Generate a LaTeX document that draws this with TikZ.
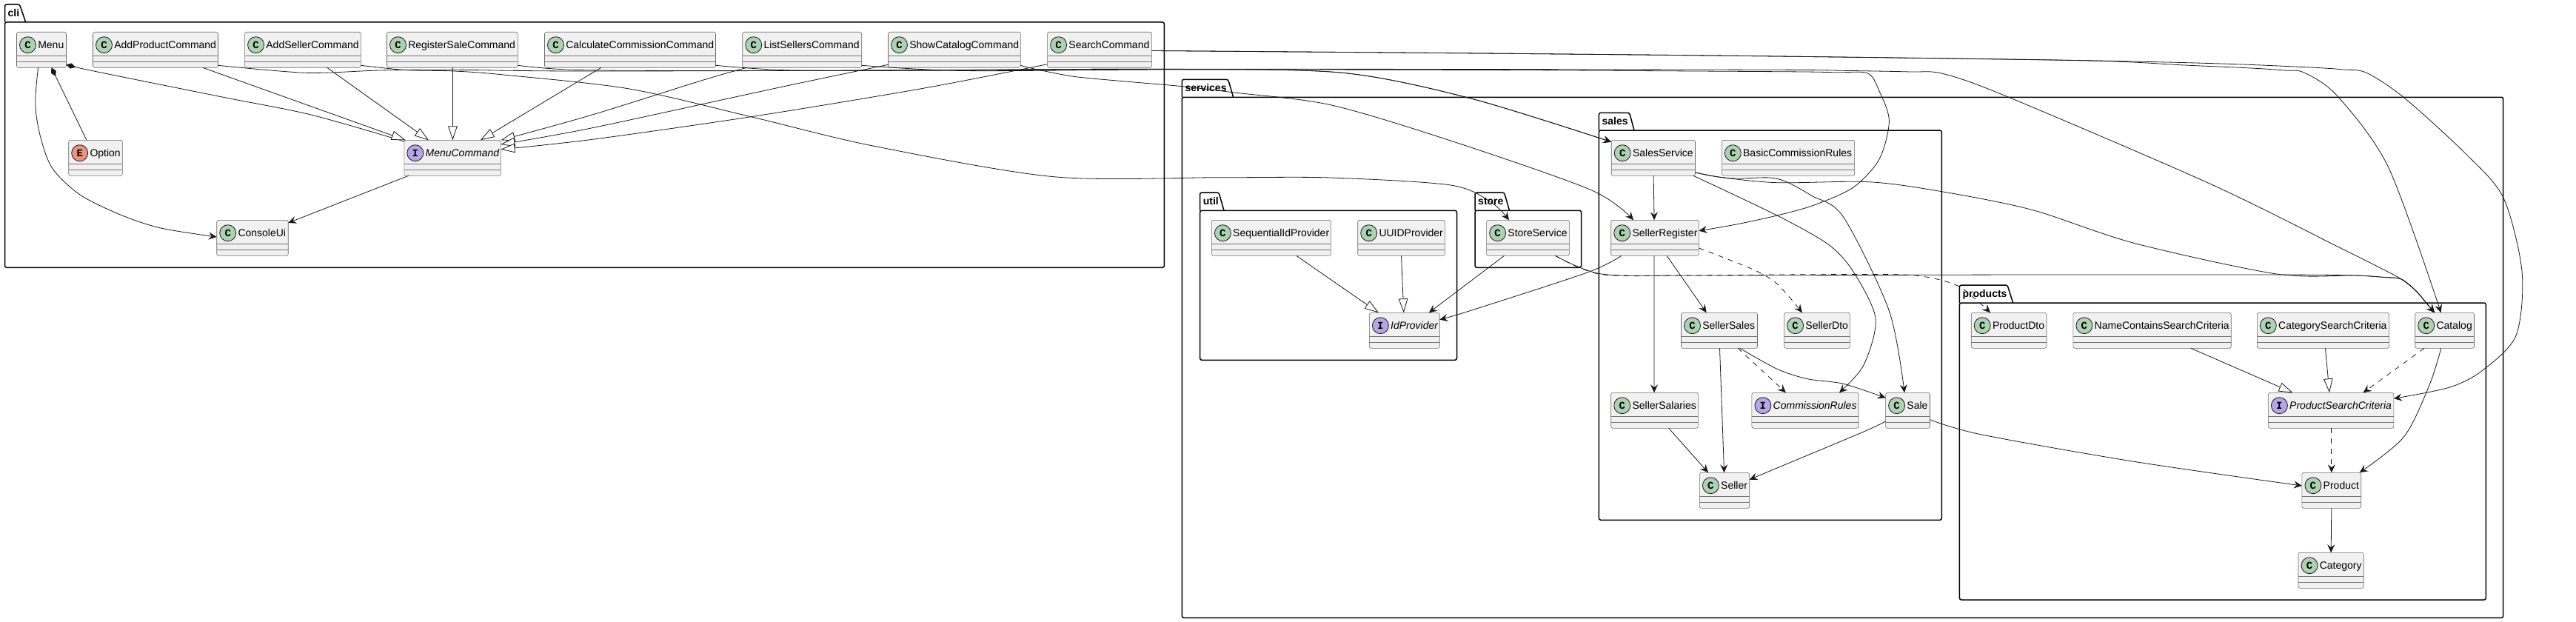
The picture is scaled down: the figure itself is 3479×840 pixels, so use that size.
\documentclass[tikz,border=0pt]{standalone}
\usepackage{fontspec}
\setmainfont{Liberation Sans}
\setmonofont{Liberation Mono}
\usepackage{tikz}
\usetikzlibrary{arrows.meta,calc}
\usepackage{xcolor}
\definecolor{boxgray}{HTML}{F1F1F1}
\definecolor{edgeink}{HTML}{181818}
\definecolor{spotclass}{HTML}{ADD1B2}
\definecolor{spotiface}{HTML}{B4A7E5}
\definecolor{spotenum}{HTML}{EB937F}
\tikzset{
  classbox/.style={draw=edgeink!65,line width=.6,fill=boxgray,rounded corners=2.5,minimum height=48,inner sep=0,outer sep=0},
  seprule/.style={draw=edgeink!60,line width=.7},
  spotmark/.style={circle,draw=edgeink,line width=.8,minimum size=22,inner sep=0,font=\fontsize{14}{14}\selectfont\ttfamily\bfseries},
  classname/.style={anchor=base west,inner sep=0,font=\fontsize{14}{16}\selectfont},
  ifacename/.style={anchor=base west,inner sep=0,font=\fontsize{14}{16}\selectfont\itshape},
  pkgbox/.style={draw=black,line width=1.5,rounded corners=2.5,inner sep=0,outer sep=0},
  pkgname/.style={anchor=base west,inner sep=0,font=\fontsize{14}{16}\selectfont\bfseries},
  assoc/.style={draw=edgeink,line width=.8,-{Stealth[length=11,width=10,inset=4]}},
  dep/.style={assoc,dash pattern=on 7pt off 7pt},
  ext/.style={draw=edgeink,line width=.8,-{Triangle[open,length=19,width=12.5,fill=white]}},
  comp/.style={draw=edgeink,line width=.8}
}
\newcommand{\umlbox}[7]{
  \node[classbox,minimum width=#3] (#1) at (#2+#3/2,#4+24) {};
  \draw[seprule] ([yshift=-32]#1.north west) -- ([yshift=-32]#1.north east);
  \draw[seprule] ([yshift=-40]#1.north west) -- ([yshift=-40]#1.north east);
  \node[spotmark,fill=#6] (#1-spot) at ([shift={(15,17.4)}]#1.north west) {#5};
  \node[#7] (#1-name) at ([shift={(28.6,22.3)}]#1.north west) {#1};
}
\begin{document}
\begin{tikzpicture}[x=1pt,y=-1pt]
  \useasboundingbox (0,0) rectangle (3479,840);

  % Packages
  \foreach \nm/\xa/\xb/\ya/\yb/\yc/\ta/\tb in {
    cli/6.5/1572.4/6/30/361.3/26.5/34.7,
    services/1596.3/3380.7/107.3/131.3/834.3/1658.6/1665.6,
    util/1620.6/1967.5/260/284.3/486.3/1646/1653,
    store/1992/2135.6/260/284.3/361.3/2031.5/2038.5,
    sales/2159.4/2622.3/152.3/176/702.3/2200.6/2207,
    products/2646.4/3357.3/385/409/810/2711/2718.6} {
    \node[pkgbox,minimum width=\xb-\xa,minimum height=\yc-\yb] (\nm) at ({(\xa+\xb)/2},{(\yb+\yc)/2}) {};
    \draw[pkgbox] (\xa,\yb) -- (\xa,\ya) -- (\ta,\ya) -- (\tb,\yb);
    \node[pkgname] (\nm-name) at (\xa+4,\ya+16.3) {\nm};
  }

  % Classes
  \foreach \nm/\xa/\w/\ya in {
    Menu/22.5/67/43.3, AddProductCommand/125.5/169/43.3, AddSellerCommand/330.6/156.8/43.3,
    RegisterSaleCommand/522.5/176.8/43.3, CalculateCommissionCommand/735.5/231/43.3,
    ListSellersCommand/1002.7/161/43.3, ShowCatalogCommand/1199.5/178.8/43.3, SearchCommand/1414.6/141/43.3,
    ConsoleUi/292.7/96.5/297.3, SequentialIdProvider/1636.4/161/297.3, UUIDProvider/1833.7/117.6/297.3,
    StoreService/2007.6/111.7/297.3, SellerRegister/2175.7/118.7/297.3,
    SalesService/2176.2/113.3/189.3, BasicCommissionRules/2325.3/179.3/189.3,
    SellerSales/2270.5/103/422.3, SellerDto/2409.6/88.8/422.3, SellerSalaries/2175.7/117.6/530.3,
    Sale/2546.6/59.9/530.3, Seller/2295.4/67.3/638.3, ProductDto/2662.2/101.8/422.3,
    NameContainsSearchCriteria/2799.9/213.3/422.3, CategorySearchCriteria/3048.3/178.3/422.3,
    Catalog/3261.7/79.8/422.3, Product/3108.9/79.8/638.3, Category/3104/88.2/746.3} {
    \umlbox{\nm}{\xa}{\w}{\ya}{C}{spotclass}{classname}
  }
  % Interfaces and the enum
  \foreach \nm/\xa/\w/\ya in {
    MenuCommand/545.8/130.6/189.3, IdProvider/1849.4/94.8/422.3,
    CommissionRules/2365.9/144.1/530.3, ProductSearchCriteria/3063.4/169.4/530.3} {
    \umlbox{\nm}{\xa}{\w}{\ya}{I}{spotiface}{ifacename}
  }
  \umlbox{Option}{92.7}{72.6}{189.3}{E}{spotenum}{classname}

  % cli links
  \draw[comp,{Diamond[length=13,width=7.5,fill=edgeink]}-] ([xshift=13.5]Menu.south) -- ([xshift=-12]Option.north);
  \draw[comp,{Diamond[length=13,width=7.5,fill=edgeink]}-,smooth] plot coordinates {([yshift=-20]Menu.east) (100,90) (130,96.7) (300,131) (420,155) ([yshift=-1.7]MenuCommand.north west)};
  \draw[assoc,smooth] plot coordinates {([xshift=-4.5]Menu.south) (47.7,140) (54.2,183) (70.5,227) (108,263) (162.6,290) (217,308) ([yshift=1.3]ConsoleUi.west)};
  \draw[assoc] ([xshift=-59.3]MenuCommand.south) -- ([yshift=-3.7]ConsoleUi.north east);
  \draw[ext] ([xshift=63.7]AddProductCommand.south) -- ([xshift=1.9]MenuCommand.north west);
  \draw[ext] ([xshift=32.7]AddSellerCommand.south) -- ([xshift=-32.2]MenuCommand.north);
  \draw[ext] ([xshift=.5]RegisterSaleCommand.south) -- ([xshift=.3]MenuCommand.north);
  \draw[ext] ([xshift=-39.1]CalculateCommissionCommand.south) -- ([xshift=37.7]MenuCommand.north);
  \draw[ext,smooth] plot coordinates {([xshift=-74.5]ListSellersCommand.south) (950,108) (800,155) (MenuCommand.north east)};
  \draw[ext,smooth] plot coordinates {([yshift=-20]ShowCatalogCommand.west) (1046.7,119.3) (800,172.7) ([yshift=18.3]MenuCommand.east)};
  \draw[ext,smooth] plot coordinates {([yshift=-19.4]SearchCommand.west) (1246.7,119.3) (1016.8,157.3) (800,188.3) ([yshift=11.6]MenuCommand.east)};

  % cli to services
  \draw[assoc,smooth] plot coordinates {([yshift=-21]AddSellerCommand.east) (547,94.5) (613,96) (680,101) (850,120) (1016.8,158.3) (1179,197) (1423,238.7) (1650,239.7) (1797,240) (1959,250) (2013.6,273) ([xshift=-25.4]StoreService.north)};
  \draw[assoc,smooth] plot coordinates {([yshift=-21]RegisterSaleCommand.east) (780,94.5) (1000,95.5) (1300,94.5) (1580,93.3) (1813,98.3) (1986.5,133) ([yshift=-2.4]SalesService.north west)};
  \draw[assoc,smooth] plot coordinates {([yshift=-21]CalculateCommissionCommand.east) (1071,95) (1300,95) (1580,93.5) (1813,98.3) (1986.5,133) ([yshift=-2.4]SalesService.north west)};
  \draw[assoc,smooth] plot coordinates {([yshift=-21]ListSellersCommand.east) (1300,95.5) (1580,94) (2000,94.5) (2400,96.7) (2480,97.8) (2522.5,99) (2538,123) (2551.4,163.3) (2538,215) (2503,253) (2450,277) (2400,291) (2345,303) ([yshift=9.6]SellerRegister.east)};
  \draw[assoc,smooth] plot coordinates {([yshift=-21]ShowCatalogCommand.east) (1396.7,93) (1450,103.3) (1520,110) (1597,116.7) (1667,125) (1797,141.7) (1959,190) (2149,256.7) ([xshift=-29]SellerRegister.north)};
  \draw[assoc,smooth] plot coordinates {([yshift=-21]AddProductCommand.east) (413,98.3) (513,95) (613,94.3) (780,96) (1200,95) (1450,93.5) (1580,93.3) (2000,93.5) (2400,94.3) (2500,95.5) (2580,97) (2624,99.5) (2709.7,130) (2985,248.3) (3157,333) (3215,362) (3243,377) (3263,393) (3280,413) ([xshift=-13.6]Catalog.north)};
  \draw[assoc,smooth] plot coordinates {([yshift=-1.2]SearchCommand.east) (2000,72) (2400,76) (2813,81.7) (2950,88) (3040,92) (3085,95) (3112.3,98.3) (3157,130) (3226,226.7) ([xshift=-5]Catalog.north)};
  \draw[assoc,smooth] plot coordinates {([yshift=-1.2]SearchCommand.east) (2000,72) (2400,76) (2813,81.7) (3000,86) (3120,91) (3165,94) (3196,98.3) (3246.5,131.7) (3329,206.7) (3380.7,266.7) (3406,366.7) (3398,453) (3353,500) (3308.5,523) ([yshift=16]ProductSearchCriteria.east)};

  % sales links
  \draw[assoc] ([xshift=.3]SalesService.south) -- ([xshift=-1]SellerRegister.north);
  \draw[assoc,smooth] plot coordinates {([yshift=-19.7]SalesService.east) (2323,239.3) (2400,246.7) (2524,245.7) (2620,258.3) (2744,283.3) (2882,328.3) (3074.5,370) (3180,372) (3220,374.5) (3243,377) (3263,393) (3280,413) ([xshift=-13.6]Catalog.north)};
  \draw[assoc,smooth] plot coordinates {([yshift=-19.7]SalesService.east) (2323,239.3) (2346.7,241) (2390,240) (2413,245.7) (2446.7,264.3) (2489.5,293) (2551.4,420) ([xshift=-4.5]Sale.north)};
  \draw[assoc,smooth] plot coordinates {([xshift=54]SalesService.south) (2400,291) (2469,330) (2503,367) (2533,430) (2517,493) ([xshift=46]CommissionRules.north)};
  \draw[assoc,smooth] plot coordinates {([xshift=-45.2]SellerRegister.south) (2143.7,368) (1986.5,419.3) ([yshift=14.6]IdProvider.east)};
  \draw[assoc] ([xshift=-1]SellerRegister.south) -- ([xshift=-.5]SellerSalaries.north);
  \draw[assoc] ([xshift=16]SellerRegister.south) -- ([xshift=-17.3]SellerSales.north);
  \draw[dep,smooth] plot coordinates {([yshift=-13.7]SellerRegister.east) (2366,363.3) (2400,383.3) ([xshift=-20]SellerDto.north)};
  \draw[assoc] ([xshift=.5]SellerSales.south) -- ([xshift=-.5]Seller.north);
  \draw[dep] ([xshift=25]SellerSales.south) -- ([xshift=-26]CommissionRules.north);
  \draw[assoc,smooth] plot coordinates {([xshift=27.7]SellerSales.south) (2400,498.3) (2441,511.7) (2489.5,518.3) ([yshift=17]Sale.west)};
  \draw[assoc] ([xshift=19.2]SellerSalaries.south) -- ([xshift=-22]Seller.north);
  \draw[assoc,smooth] plot coordinates {([yshift=-14.7]Sale.west) (2517,583) (2400,632) ([yshift=14.6]Seller.east)};
  \draw[assoc,smooth] plot coordinates {([yshift=-12.4]Sale.east) (2675,586.7) (2881.8,623.3) ([yshift=6.3]Product.west)};

  % store and util links
  \draw[assoc] ([xshift=-31.9]StoreService.south) -- ([xshift=33]IdProvider.north);
  \draw[assoc,smooth] plot coordinates {([xshift=36.9]StoreService.south) (2162.6,370) (2280,372) (2430,371.7) (2750,371) (3074.5,371) (3180,372) (3220,374.5) (3243,377) (3263,393) (3280,413) ([xshift=-13.6]Catalog.north)};
  \draw[dep,smooth] plot coordinates {([xshift=36.9]StoreService.south) (2162,370.5) (2280,372) (2400,371) (2558,370.7) (2606.5,375) (2647.8,388) ([xshift=-25]ProductDto.north)};
  \draw[ext] ([xshift=33.8]SequentialIdProvider.south) -- ([xshift=-35]IdProvider.north);
  \draw[ext] (UUIDProvider.south) -- ([xshift=-1]IdProvider.north);

  % products links
  \draw[ext] ([xshift=52.3]NameContainsSearchCriteria.south) -- ([xshift=-51.6]ProductSearchCriteria.north);
  \draw[ext] ([xshift=3]CategorySearchCriteria.south) -- ([xshift=-2.1]ProductSearchCriteria.north);
  \draw[dep] ([xshift=-27.6]Catalog.south) -- ([xshift=43.4]ProductSearchCriteria.north);
  \draw[assoc,smooth] plot coordinates {([xshift=-4.8]Catalog.south) (3281,520) (3246.5,590) ([xshift=37.8]Product.north)};
  \draw[dep] ([xshift=.7]ProductSearchCriteria.south) -- (Product.north);
  \draw[assoc] (Product.south) -- (Category.north);
\end{tikzpicture}
\end{document}
